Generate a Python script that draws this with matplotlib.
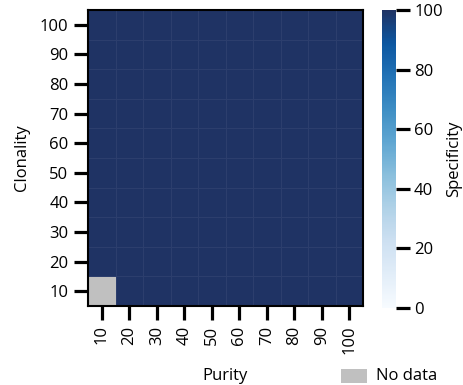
import numpy as np
import matplotlib
matplotlib.use("Agg")
import matplotlib.pyplot as plt
from matplotlib.colors import LinearSegmentedColormap
from matplotlib.patches import Rectangle

purity = [10, 20, 30, 40, 50, 60, 70, 80, 90, 100]
clonality = [10, 20, 30, 40, 50, 60, 70, 80, 90, 100]
specificity = np.full((len(clonality), len(purity)), 100.0)
specificity[0, 0] = np.nan  # no data

plt.rcParams['font.family'] = ['Open Sans', 'DejaVu Sans']
FS = 12

blues = plt.get_cmap('Blues')
cols = [blues(v) for v in np.linspace(0.0, 0.85, 9)] + ['#1f3364']
cmap = LinearSegmentedColormap.from_list('spec', cols)
cmap.set_bad('#c0c0c0')

W, H = 463, 385
fig = plt.figure(figsize=(W/100, H/100), dpi=100)
ax = fig.add_axes([88/W, 1-306/H, 275/W, 296/H])
cax = fig.add_axes([382/W, 1-308/H, 14/W, 298/H])

edges_x = np.arange(len(purity)+1) * 10 + 5
edges_y = np.arange(len(clonality)+1) * 10 + 5
data = np.ma.masked_invalid(specificity)
mesh = ax.pcolormesh(edges_x, edges_y, data, cmap=cmap, vmin=0, vmax=100,
                     edgecolor=(1, 1, 1, 0.06), linewidth=0.6)

ax.set_xticks(purity)
ax.set_xticklabels([str(p) for p in purity], rotation=90)
ax.set_yticks(clonality)
ax.set_yticklabels([str(c) for c in clonality])
ax.set_xlim(5, 105)
ax.set_ylim(5, 105)
ax.tick_params(direction='out', length=10, width=2.3, labelsize=FS, pad=4)
for s in ax.spines.values():
    s.set_linewidth(1.5)
ax.set_xlabel('Purity', fontsize=FS, labelpad=10)
ax.set_ylabel('Clonality', fontsize=FS, labelpad=7)

cb = fig.colorbar(mesh, cax=cax)
cb.outline.set_visible(False)
cb.set_ticks([0, 20, 40, 60, 80, 100])
cax.tick_params(direction='out', length=10, width=2.3, labelsize=FS, pad=3)
cb.set_label('Specificity', fontsize=FS)
cax.yaxis.set_label_coords((454 - 382) / 14, 0.5)
cax.yaxis.label.set_va('center')

# "No data" key
fig.patches.append(Rectangle((341/W, 1-383/H), 26/W, 14/H, transform=fig.transFigure,
                             facecolor='#c0c0c0', edgecolor='none'))
fig.text(376/W, 1-376/H, 'No data', fontsize=FS, va='center', ha='left')

fig.savefig('out.png', dpi=100)
